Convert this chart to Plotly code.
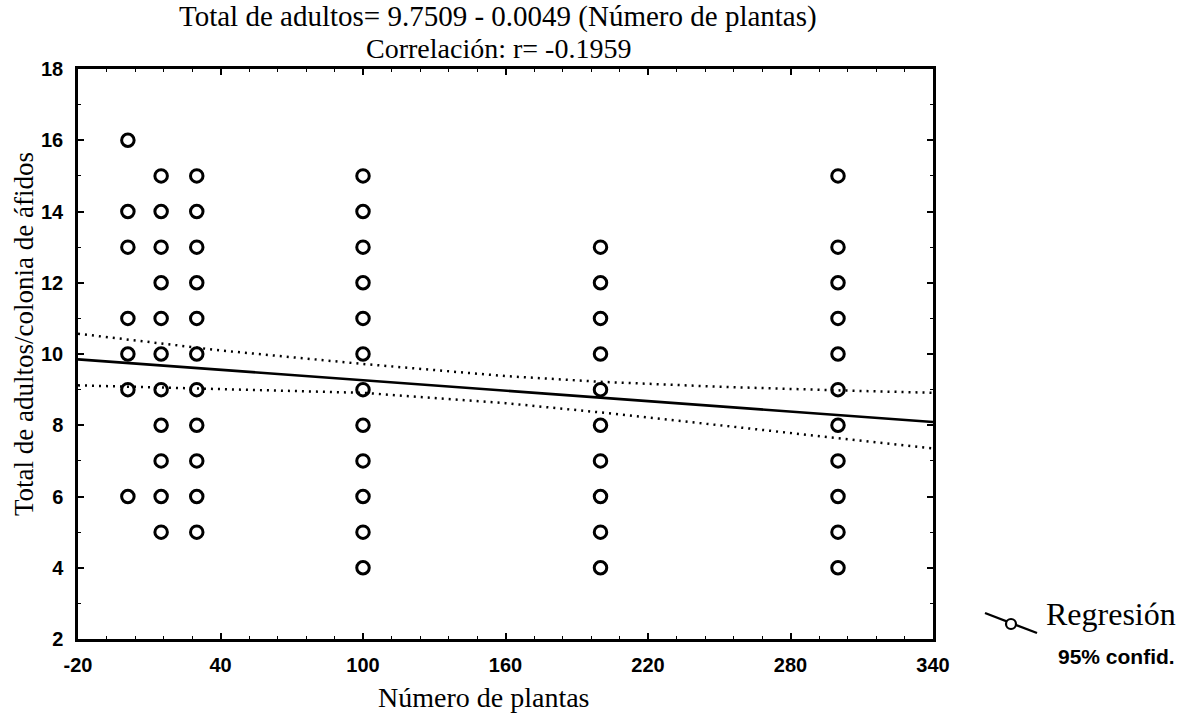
import plotly.graph_objects as go

# Scatter data: number of plants (x) and total adults per aphid colony (y)
x_col = [1, 15, 30, 100, 200, 300]
y_by_col = [
    [16, 14, 13, 11, 10, 9, 6],
    [15, 14, 13, 12, 11, 10, 9, 8, 7, 6, 5],
    [15, 14, 13, 12, 11, 10, 9, 8, 7, 6, 5],
    [15, 14, 13, 12, 11, 10, 9, 8, 7, 6, 5, 4],
    [13, 12, 11, 10, 9, 8, 7, 6, 5, 4],
    [15, 13, 12, 11, 10, 9, 8, 7, 6, 5, 4],
]

# Regression line
reg_x = [-20, 340]
reg_y = [9.85, 8.09]

# 95% confidence band
ci_x = [-20, 40, 100, 160, 200, 250, 300, 340]
ci_upper = [10.57, 10.10, 9.72, 9.38, 9.22, 9.08, 8.98, 8.91]
ci_lower = [9.12, 9.01, 8.91, 8.62, 8.36, 8.00, 7.64, 7.35]

x_ticks = [-20, 40, 100, 160, 220, 280, 340]
y_ticks = [2, 4, 6, 8, 10, 12, 14, 16, 18]

title1 = "Total de adultos= 9.7509 - 0.0049 (Número de plantas)"
title2 = "Correlación: r= -0.1959"
x_title = "Número de plantas"
y_title = "Total de adultos/colonia de áfidos"

W, H = 1189, 714
L, R, T, B = 78, 933, 69, 639

xs, ys = [], []
for xv, yl in zip(x_col, y_by_col):
    for yv in yl:
        xs.append(xv)
        ys.append(yv)

fig = go.Figure()
fig.add_trace(go.Scatter(x=ci_x, y=ci_upper, mode="lines",
                         line=dict(color="black", width=2.5, dash="2px,5px"),
                         hoverinfo="skip", showlegend=False))
fig.add_trace(go.Scatter(x=ci_x, y=ci_lower, mode="lines",
                         line=dict(color="black", width=2.5, dash="2px,5px"),
                         hoverinfo="skip", showlegend=False))
fig.add_trace(go.Scatter(x=reg_x, y=reg_y, mode="lines",
                         line=dict(color="black", width=2.6),
                         showlegend=False))
fig.add_trace(go.Scatter(x=xs, y=ys, mode="markers",
                         marker=dict(symbol="circle-open", size=12.5, color="black",
                                     line=dict(width=3, color="black")),
                         showlegend=False))

sans = "Liberation Sans, Arial, sans-serif"
serif = "Liberation Serif, Times New Roman, serif"
tickfont = dict(family=sans, size=20, color="black", weight="bold")

fig.update_xaxes(range=[-20, 340], tickvals=x_ticks, ticktext=[str(v) for v in x_ticks],
                 ticks="inside", ticklen=6, tickwidth=1.5, tickcolor="black",
                 minor=dict(dtick=12, tick0=-20, ticks="inside", ticklen=3, tickwidth=1, tickcolor="black"),
                 showline=True, linewidth=2.5, linecolor="black", mirror="ticks",
                 showgrid=False, zeroline=False, tickfont=tickfont, ticklabelstandoff=6)
fig.update_yaxes(range=[2, 18], tickvals=y_ticks, ticktext=[str(v) for v in y_ticks],
                 ticks="inside", ticklen=6, tickwidth=1.5, tickcolor="black",
                 minor=dict(dtick=1, tick0=2, ticks="inside", ticklen=3, tickwidth=1, tickcolor="black"),
                 showline=True, linewidth=2.5, linecolor="black", mirror="ticks",
                 showgrid=False, zeroline=False, tickfont=tickfont, ticklabelstandoff=8)

def px(xp):
    return (xp - L) / (R - L)

def py(yp):
    return (B - yp) / (B - T)

ann = [
    dict(text=title1, x=px(498), y=py(17), font=dict(family=serif, size=29, color="black")),
    dict(text=title2, x=px(498), y=py(48), font=dict(family=serif, size=28, color="black")),
    dict(text=x_title, x=px(484), y=py(697), font=dict(family=serif, size=28, color="black")),
    dict(text=y_title, x=px(24), y=py(334), textangle=-90, font=dict(family=serif, size=27, color="black")),
    dict(text="Regresión", x=px(1044), y=py(614), xanchor="left",
         font=dict(family=serif, size=32, color="black")),
    dict(text="95% confid.", x=px(1056), y=py(656), xanchor="left",
         font=dict(family=sans, size=21, color="black", weight="bold")),
]
for a in ann:
    a.setdefault("xanchor", "center")
    a.update(xref="paper", yref="paper", yanchor="middle", showarrow=False)
fig.update_layout(annotations=ann)

# legend symbol: line with open circle
fig.add_shape(type="line", xref="paper", yref="paper",
              x0=px(985), y0=py(613), x1=px(1037), y1=py(633),
              line=dict(color="black", width=2.4))
fig.add_shape(type="circle", xref="paper", yref="paper",
              x0=px(1006), y0=py(619), x1=px(1016), y1=py(629),
              line=dict(color="black", width=2.2), fillcolor="white")

fig.update_layout(width=W, height=H, margin=dict(l=L, r=W - R, t=T, b=H - B),
                  paper_bgcolor="white", plot_bgcolor="white", showlegend=False)

fig.write_html("out.html")
